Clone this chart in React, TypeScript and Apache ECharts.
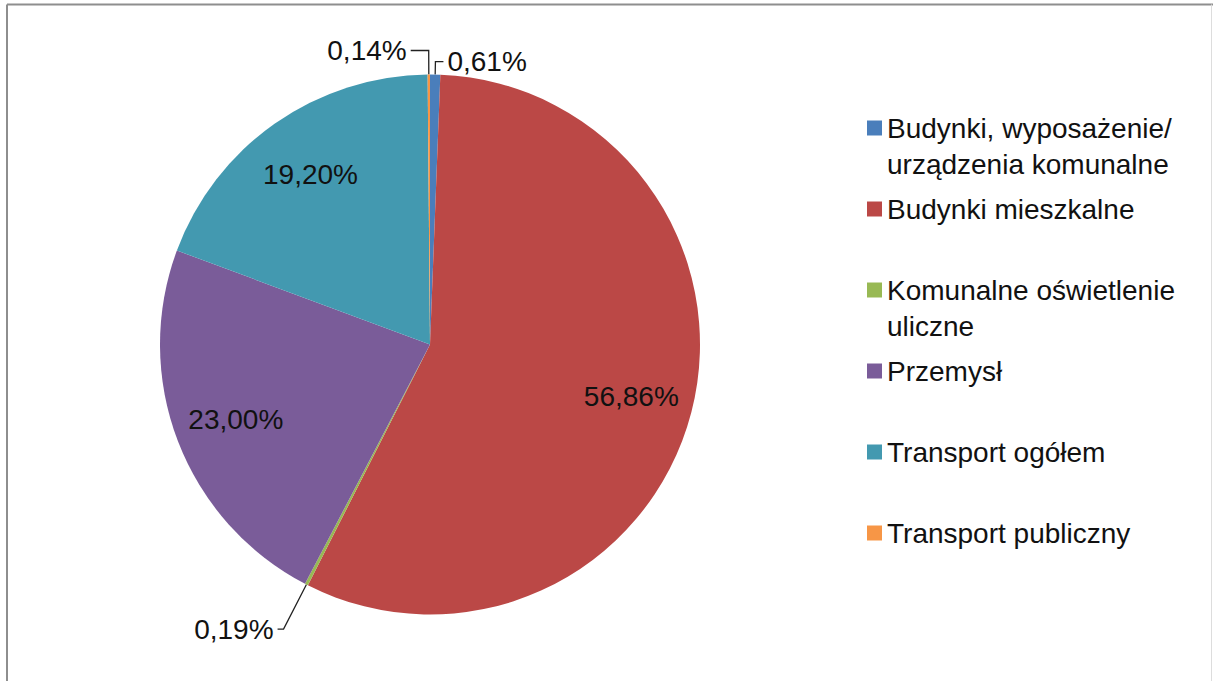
import React, { useEffect, useRef } from 'react';
import * as echarts from 'echarts';

// ---- data ----
const categories = [
  'Budynki, wyposażenie/\nurządzenia komunalne',
  'Budynki mieszkalne',
  'Komunalne oświetlenie\nuliczne',
  'Przemysł',
  'Transport ogółem',
  'Transport publiczny',
];
const shares = [0.61, 56.86, 0.19, 23.0, 19.2, 0.14];

// ---- styles ----
const colors = ['#4A7EBB', '#BB4846', '#98B954', '#7A5C99', '#4399B0', '#F79646'];
const leaderLines = [
  { length: 13, length2: 8 },
  null,
  { length: 50, length2: 6 },
  null,
  null,
  { length: 24, length2: 18 },
];

const FONT = "'Liberation Sans', Arial, sans-serif";
const fmt = (v: number) => v.toFixed(2).replace('.', ',') + '%';

export default function App() {
  const ref = useRef<HTMLDivElement>(null);
  useEffect(() => {
    if (!ref.current) return;
    const chart = echarts.init(ref.current, null, { renderer: 'svg' });
    const center = [430, 344.5];
    const isSmall = (v: number) => v < 1;

    const mainData = categories.map((name, i) => ({
      name,
      value: shares[i],
      itemStyle: { color: colors[i] },
      label: { show: isSmall(shares[i]) },
      labelLine: isSmall(shares[i])
        ? { show: true, length: leaderLines[i]?.length, length2: leaderLines[i]?.length2 }
        : { show: false },
    }));

    const labelData = categories.map((name, i) => ({
      name,
      value: shares[i],
      itemStyle: { color: 'rgba(0,0,0,0)' },
      label: { show: !isSmall(shares[i]) },
    }));

    chart.setOption({
      animation: false,
      backgroundColor: '#ffffff',
      legend: {
        orient: 'vertical',
        left: 867,
        top: 74,
        padding: 0,
        itemGap: -27,
        itemWidth: 15,
        itemHeight: 15,
        icon: 'rect',
        selectedMode: false,
        formatter: (name: string) => (name.includes('\n') ? '\n' + name : name),
        textStyle: {
          fontFamily: FONT,
          fontSize: 28,
          lineHeight: 36,
          color: '#111',
          backgroundColor: 'rgba(0,0,0,0)',
        },
        data: categories.map((name) => ({
          name,
          textStyle: {
            padding: name.includes('\n') ? [0, 0, 0, 0] : [36, 0, 36, 0],
            backgroundColor: 'rgba(0,0,0,0)',
          },
        })),
      },
      graphic: [
        { type: 'line', shape: { x1: 7, y1: 4.5, x2: 1213, y2: 4.5 }, style: { stroke: '#8e8e8e', lineWidth: 2 } },
        { type: 'line', shape: { x1: 7, y1: 4.5, x2: 7, y2: 681 }, style: { stroke: '#8e8e8e', lineWidth: 2 } },
        { type: 'line', shape: { x1: 1211.5, y1: 4.5, x2: 1211.5, y2: 681 }, style: { stroke: '#dddddd', lineWidth: 1 } },
      ],
      series: [
        {
          type: 'pie',
          name: 'main',
          center,
          radius: [0, 270],
          startAngle: 90,
          clockwise: true,
          silent: true,
          avoidLabelOverlap: false,
          itemStyle: { borderWidth: 0 },
          label: {
            position: 'outside',
            fontFamily: FONT,
            fontSize: 28,
            color: '#111',
            formatter: (p: any) => fmt(p.value),
            distanceToLabelLine: 4,
          },
          labelLine: { lineStyle: { color: '#222', width: 1.3 }, smooth: false },
          data: mainData,
          z: 2,
        },
        {
          type: 'pie',
          name: 'labels',
          center,
          radius: [0, 410],
          startAngle: 90,
          clockwise: true,
          silent: true,
          avoidLabelOverlap: false,
          label: {
            position: 'inside',
            fontFamily: FONT,
            fontSize: 28,
            color: '#111',
            formatter: (p: any) => fmt(p.value),
          },
          labelLine: { show: false },
          data: labelData,
          z: 3,
        },
      ],
    });
    return () => chart.dispose();
  }, []);
  return (
    <div
      ref={ref}
      style={{ position: 'fixed', left: 0, top: 0, width: 1213, height: 681, background: '#fff' }}
    />
  );
}
